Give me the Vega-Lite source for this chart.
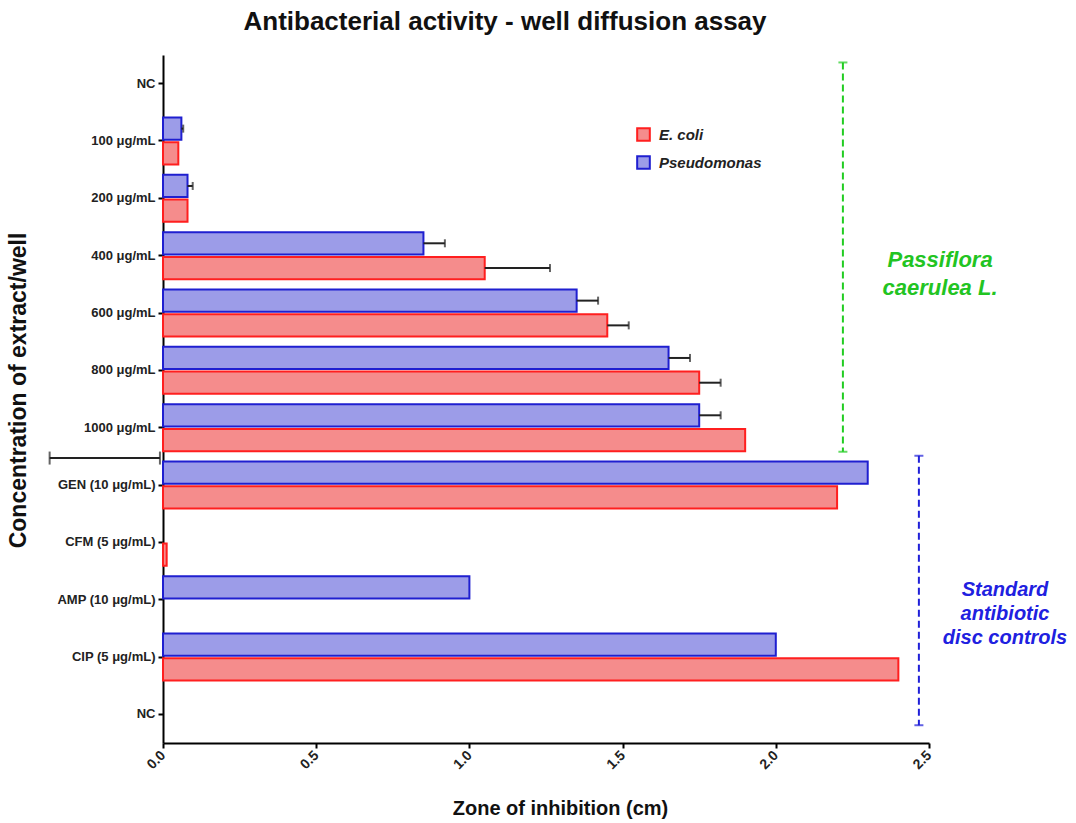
{
  "$schema": "https://vega.github.io/schema/vega-lite/v6.json",
  "width": 766,
  "height": 688,
  "autosize": {"type": "none"},
  "padding": {"left": 163, "top": 55, "right": 147, "bottom": 80},
  "background": "white",
  "config": {"view": {"stroke": null}, "font": "Liberation Sans", "axis": {"grid": false}},
  "title": {
    "text": "Antibacterial activity - well diffusion assay",
    "font": "Liberation Sans", "fontSize": 26, "fontWeight": "bold", "color": "#111",
    "anchor": "middle", "dx": -41, "offset": -1, "baseline": "alphabetic"
  },
  "layer": [
    {
      "data": {"values": [
        {"cat": "NC", "org": "Pseudomonas", "value": 0},
        {"cat": "NC", "org": "E. coli", "value": 0},
        {"cat": "100 μg/mL", "org": "Pseudomonas", "value": 0.06, "hi": 0.066},
        {"cat": "100 μg/mL", "org": "E. coli", "value": 0.05},
        {"cat": "200 μg/mL", "org": "Pseudomonas", "value": 0.08, "hi": 0.097},
        {"cat": "200 μg/mL", "org": "E. coli", "value": 0.08},
        {"cat": "400 μg/mL", "org": "Pseudomonas", "value": 0.85, "hi": 0.92},
        {"cat": "400 μg/mL", "org": "E. coli", "value": 1.05, "hi": 1.263},
        {"cat": "600 μg/mL", "org": "Pseudomonas", "value": 1.35, "hi": 1.42},
        {"cat": "600 μg/mL", "org": "E. coli", "value": 1.45, "hi": 1.52},
        {"cat": "800 μg/mL", "org": "Pseudomonas", "value": 1.65, "hi": 1.72},
        {"cat": "800 μg/mL", "org": "E. coli", "value": 1.75, "hi": 1.82},
        {"cat": "1000 μg/mL", "org": "Pseudomonas", "value": 1.75, "hi": 1.82},
        {"cat": "1000 μg/mL", "org": "E. coli", "value": 1.9},
        {"cat": "GEN (10  μg/mL)", "org": "Pseudomonas", "value": 2.3},
        {"cat": "GEN (10  μg/mL)", "org": "E. coli", "value": 2.2},
        {"cat": "CFM (5  μg/mL)", "org": "Pseudomonas", "value": 0},
        {"cat": "CFM (5  μg/mL)", "org": "E. coli", "value": 0.012},
        {"cat": "AMP (10  μg/mL)", "org": "Pseudomonas", "value": 1.0},
        {"cat": "AMP (10  μg/mL)", "org": "E. coli", "value": 0},
        {"cat": "CIP (5  μg/mL)", "org": "Pseudomonas", "value": 2.0},
        {"cat": "CIP (5  μg/mL)", "org": "E. coli", "value": 2.4},
        {"cat": "NC\u200b", "org": "Pseudomonas", "value": 0},
        {"cat": "NC\u200b", "org": "E. coli", "value": 0}
      ]},
      "layer": [
        {
          "transform": [{"filter": "datum.value > 0"}],
          "mark": {"type": "bar", "strokeWidth": 2},
          "encoding": {
            "y": {
              "field": "cat", "type": "nominal",
              "scale": {
                "domain": ["NC", "100 μg/mL", "200 μg/mL", "400 μg/mL", "600 μg/mL", "800 μg/mL", "1000 μg/mL", "GEN (10  μg/mL)", "CFM (5  μg/mL)", "AMP (10  μg/mL)", "CIP (5  μg/mL)", "NC\u200b"],
                "paddingInner": 0.18, "paddingOuter": 0.09
              },
              "title": "Concentration of extract/well",
              "axis": {
                "domainColor": "#000", "domainWidth": 2, "tickColor": "#000", "tickWidth": 2, "tickSize": 5,
                "labelFont": "Liberation Sans", "labelFontSize": 13, "labelFontWeight": "bold", "labelColor": "#222", "labelPadding": 3,
                "titleFont": "Liberation Sans", "titleFontSize": 23, "titleFontWeight": "bold", "titleColor": "#111",
                "titleX": -145, "titleY": 335, "titleBaseline": "middle", "titleAngle": 270
              }
            },
            "yOffset": {"field": "org", "type": "nominal", "sort": ["Pseudomonas", "E. coli"], "scale": {"paddingInner": 0.1}},
            "x": {
              "field": "value", "type": "quantitative",
              "scale": {"domain": [0, 2.5], "nice": false},
              "title": "Zone of inhibition (cm)",
              "axis": {
                "values": [0, 0.5, 1, 1.5, 2, 2.5], "format": ".1f", "labelAngle": 315, "labelAlign": "right", "labelBaseline": "middle", "labelPadding": 5,
                "domainColor": "#000", "domainWidth": 2, "tickColor": "#000", "tickWidth": 2, "tickSize": 5,
                "labelFont": "Liberation Sans", "labelFontSize": 14, "labelFontWeight": "bold", "labelColor": "#222",
                "titleFont": "Liberation Sans", "titleFontSize": 20, "titleFontWeight": "bold", "titleColor": "#111",
                "titleX": 397, "titleY": 65, "titleBaseline": "middle"
              }
            },
            "fill": {
              "field": "org", "type": "nominal",
              "scale": {"domain": ["E. coli", "Pseudomonas"], "range": ["#f58c8c", "#9c9ce8"]},
              "legend": {"title": null, "orient": "none", "legendX": 473, "legendY": 72, "symbolType": "square", "symbolSize": 160, "symbolStrokeWidth": 2, "labelFont": "Liberation Sans", "labelFontSize": 15, "labelFontStyle": "italic", "labelFontWeight": "bold", "labelColor": "#222", "rowPadding": 7, "labelOffset": 8}
            },
            "stroke": {
              "field": "org", "type": "nominal",
              "scale": {"domain": ["E. coli", "Pseudomonas"], "range": ["#ff1f1f", "#1f1fd0"]},
              "legend": {"title": null, "orient": "none", "legendX": 473, "legendY": 72, "symbolType": "square", "symbolSize": 160, "symbolStrokeWidth": 2, "labelFont": "Liberation Sans", "labelFontSize": 15, "labelFontStyle": "italic", "labelFontWeight": "bold", "labelColor": "#222", "rowPadding": 7, "labelOffset": 8}
            }
          }
        },
        {
          "transform": [{"filter": "isValid(datum.hi)"}],
          "mark": {"type": "rule", "color": "#222", "strokeWidth": 2},
          "encoding": {
            "y": {"field": "cat", "type": "nominal"},
            "yOffset": {"field": "org", "type": "nominal", "sort": ["Pseudomonas", "E. coli"]},
            "x": {"field": "value", "type": "quantitative", "title": "Zone of inhibition (cm)"},
            "x2": {"field": "hi"}
          }
        },
        {
          "transform": [{"filter": "isValid(datum.hi)"}],
          "mark": {"type": "tick", "color": "#222", "thickness": 2, "size": 8, "orient": "vertical"},
          "encoding": {
            "y": {"field": "cat", "type": "nominal"},
            "yOffset": {"field": "org", "type": "nominal", "sort": ["Pseudomonas", "E. coli"]},
            "x": {"field": "hi", "type": "quantitative", "title": "Zone of inhibition (cm)"}
          }
        }
      ]
    },
    {
      "layer": [
        {
          "data": {"values": [{"x": 2.219, "y": 0.13, "y2": 6.92}]},
          "mark": {"type": "rule", "color": "#22cc22", "strokeWidth": 2, "strokeDash": [7, 4]},
          "encoding": {
            "x": {"field": "x", "type": "quantitative", "title": "Zone of inhibition (cm)"},
            "y": {"field": "y", "type": "quantitative", "scale": {"domain": [0, 12], "reverse": true, "nice": false, "zero": false}, "axis": null},
            "y2": {"field": "y2"}
          }
        },
        {
          "data": {"values": [{"x": 2.219, "y": 0.13}, {"x": 2.219, "y": 6.92}]},
          "mark": {"type": "tick", "color": "#22cc22", "thickness": 2, "size": 9, "orient": "horizontal"},
          "encoding": {
            "x": {"field": "x", "type": "quantitative", "title": "Zone of inhibition (cm)"},
            "y": {"field": "y", "type": "quantitative", "axis": null}
          }
        },
        {
          "data": {"values": [{"x": 2.467, "y": 6.99, "y2": 11.69}]},
          "mark": {"type": "rule", "color": "#2020d8", "strokeWidth": 2, "strokeDash": [7, 4]},
          "encoding": {
            "x": {"field": "x", "type": "quantitative", "title": "Zone of inhibition (cm)"},
            "y": {"field": "y", "type": "quantitative", "axis": null},
            "y2": {"field": "y2"}
          }
        },
        {
          "data": {"values": [{"x": 2.467, "y": 6.99}, {"x": 2.467, "y": 11.69}]},
          "mark": {"type": "tick", "color": "#2020d8", "thickness": 2, "size": 9, "orient": "horizontal"},
          "encoding": {
            "x": {"field": "x", "type": "quantitative", "title": "Zone of inhibition (cm)"},
            "y": {"field": "y", "type": "quantitative", "axis": null}
          }
        },
        {
          "data": {"values": [{"x": -0.37, "x2": -0.01, "y": 7.03}]},
          "mark": {"type": "rule", "color": "#222", "strokeWidth": 2},
          "encoding": {
            "x": {"field": "x", "type": "quantitative", "title": "Zone of inhibition (cm)"},
            "x2": {"field": "x2"},
            "y": {"field": "y", "type": "quantitative", "axis": null}
          }
        },
        {
          "data": {"values": [{"x": -0.37, "y": 7.03}, {"x": -0.01, "y": 7.03}]},
          "mark": {"type": "tick", "color": "#222", "thickness": 2, "size": 13, "orient": "vertical"},
          "encoding": {
            "x": {"field": "x", "type": "quantitative", "title": "Zone of inhibition (cm)"},
            "y": {"field": "y", "type": "quantitative", "axis": null}
          }
        },
        {
          "data": {"values": [{"x": 2.536, "y": 3.57, "t": "Passiflora"}, {"x": 2.536, "y": 4.06, "t": "caerulea L."}]},
          "mark": {"type": "text", "color": "#22c422", "font": "Liberation Sans", "fontSize": 22, "fontStyle": "italic", "fontWeight": "bold", "align": "center", "baseline": "middle"},
          "encoding": {
            "x": {"field": "x", "type": "quantitative", "title": "Zone of inhibition (cm)"},
            "y": {"field": "y", "type": "quantitative", "axis": null},
            "text": {"field": "t"}
          }
        },
        {
          "data": {"values": [{"x": 2.748, "y": 9.33, "t": "Standard"}, {"x": 2.748, "y": 9.75, "t": "antibiotic"}, {"x": 2.748, "y": 10.17, "t": "disc controls"}]},
          "mark": {"type": "text", "color": "#2020e0", "font": "Liberation Sans", "fontSize": 20, "fontStyle": "italic", "fontWeight": "bold", "align": "center", "baseline": "middle"},
          "encoding": {
            "x": {"field": "x", "type": "quantitative", "title": "Zone of inhibition (cm)"},
            "y": {"field": "y", "type": "quantitative", "axis": null},
            "text": {"field": "t"}
          }
        }
      ]
    }
  ],
  "resolve": {"scale": {"y": "independent"}}
}
